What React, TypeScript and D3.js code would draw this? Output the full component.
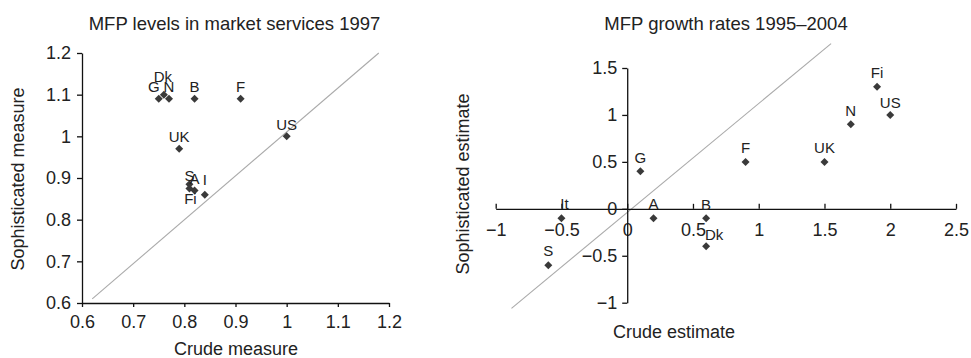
import React, { useRef, useEffect } from "react";
import * as d3 from "d3";

// Left panel: MFP levels in market services 1997
const levelCountries = ["G", "Dk", "N", "B", "F", "US", "UK", "S", "A", "I", "Fi"];
const levelCrude = [0.75, 0.76, 0.77, 0.82, 0.91, 1.0, 0.79, 0.81, 0.82, 0.84, 0.81];
const levelSoph = [1.09, 1.1, 1.09, 1.09, 1.09, 1.0, 0.97, 0.885, 0.87, 0.86, 0.875];
const levelTicks = [0.6, 0.7, 0.8, 0.9, 1, 1.1, 1.2];
const levelDiagonal: [number, number][] = [
  [0.62, 0.61],
  [1.18, 1.2],
];

// Right panel: MFP growth rates 1995-2004
const growthCountries = ["Fi", "US", "N", "UK", "F", "G", "It", "A", "B", "Dk", "S"];
const growthCrude = [1.9, 2.0, 1.7, 1.5, 0.9, 0.1, -0.5, 0.2, 0.6, 0.6, -0.6];
const growthSoph = [1.3, 1.0, 0.9, 0.5, 0.5, 0.4, -0.1, -0.1, -0.1, -0.4, -0.6];
const growthXTicks = [-1, -0.5, 0, 0.5, 1, 1.5, 2, 2.5];
const growthYTicks = [-1, -0.5, 0, 0.5, 1, 1.5];
const growthDiagonal: [number, number][] = [
  [-0.88, -1.06],
  [1.55, 1.76],
];

const FONT = "'Liberation Sans', Arial, sans-serif";
const fmt = (d: number) => String(+d.toFixed(2)).replace("-", "\u2212");

// label nudges (dx, dy) relative to marker
const levelLabelPos: Record<string, [number, number]> = {
  G: [-5, -12],
  Dk: [-1, -18],
  N: [0, -12],
  S: [0, -9],
  A: [0, -12],
  I: [0, -15],
  Fi: [1, 10],
};
const growthLabelPos: Record<string, [number, number]> = {
  Dk: [8, -12],
  It: [3, -14],
  B: [0, -13],
  US: [0, -12],
};

const diamond = "M0,-4L4,0L0,4L-4,0Z";

const App = () => {
  const svgRef = useRef<SVGSVGElement>(null);

  useEffect(() => {
    const svg = d3.select(svgRef.current);
    svg.selectAll("*").remove();

    const styleAxis = (g: any) => {
      g.select(".domain").attr("stroke", "#111").attr("stroke-width", 1.3);
      g.selectAll(".tick line").attr("stroke", "#111").attr("stroke-width", 1.3);
      g.selectAll(".tick text")
        .attr("fill", "#222")
        .attr("font-size", 18)
        .attr("font-family", FONT);
    };

    const text = (x: number, y: number, s: string, size = 18, rotate = false) => {
      const t = svg
        .append("text")
        .attr("text-anchor", "middle")
        .attr("dy", "0.35em")
        .attr("font-size", size)
        .attr("font-family", FONT)
        .attr("fill", "#222")
        .text(s);
      if (rotate) t.attr("transform", `translate(${x},${y}) rotate(-90)`);
      else t.attr("x", x).attr("y", y);
    };

    const line = d3.line<[number, number]>();

    // ---------- left panel ----------
    const xL = d3.scaleLinear().domain([0.6, 1.2]).range([82, 389]);
    const yL = d3.scaleLinear().domain([0.6, 1.2]).range([303, 53]);

    svg
      .append("path")
      .attr("d", line(levelDiagonal.map((d) => [xL(d[0]), yL(d[1])]) as any))
      .attr("stroke", "#aaa")
      .attr("stroke-width", 1.1)
      .attr("fill", "none");

    svg
      .append("g")
      .attr("transform", `translate(0,${yL(0.6)})`)
      .call(d3.axisBottom(xL).tickValues(levelTicks).tickFormat(fmt as any).tickSizeOuter(0).tickSizeInner(4).tickPadding(8))
      .call(styleAxis);

    svg
      .append("g")
      .attr("transform", `translate(${xL(0.6)},0)`)
      .call(d3.axisLeft(yL).tickValues(levelTicks).tickFormat(fmt as any).tickSizeOuter(0).tickSizeInner(5).tickPadding(6))
      .call(styleAxis);

    levelCountries.forEach((c, i) => {
      const px = xL(levelCrude[i]);
      const py = yL(levelSoph[i]);
      svg.append("path").attr("d", diamond).attr("transform", `translate(${px},${py})`).attr("fill", "#3a3a3a");
    });
    levelCountries.forEach((c, i) => {
      const [dx, dy] = levelLabelPos[c] || [0, -12];
      svg
        .append("text")
        .attr("x", xL(levelCrude[i]) + dx)
        .attr("y", yL(levelSoph[i]) + dy)
        .attr("dy", "0.35em")
        .attr("text-anchor", "middle")
        .attr("font-size", 15)
        .attr("font-family", FONT)
        .attr("fill", "#222")
        .text(c);
    });

    text(234.5, 24, "MFP levels in market services 1997", 18.5);
    text(236, 348.5, "Crude measure");
    text(18, 179, "Sophisticated measure", 18, true);

    // ---------- right panel ----------
    const xR = d3.scaleLinear().domain([-1, 2.5]).range([495.7, 956]);
    const yR = d3.scaleLinear().domain([-1, 1.5]).range([302.7, 68]);

    svg
      .append("path")
      .attr("d", line(growthDiagonal.map((d) => [xR(d[0]), yR(d[1])]) as any))
      .attr("stroke", "#aaa")
      .attr("stroke-width", 1.1)
      .attr("fill", "none");

    svg
      .append("g")
      .attr("transform", `translate(0,${yR(0)})`)
      .call(d3.axisBottom(xR).tickValues(growthXTicks).tickFormat(fmt as any).tickSizeOuter(0).tickSizeInner(-5).tickPadding(14))
      .call(styleAxis);

    svg
      .append("g")
      .attr("transform", `translate(${xR(0)},0)`)
      .call(d3.axisLeft(yR).tickValues(growthYTicks).tickFormat(fmt as any).tickSizeOuter(0).tickSizeInner(5).tickPadding(5))
      .call(styleAxis);

    growthCountries.forEach((c, i) => {
      const px = xR(growthCrude[i]);
      const py = yR(growthSoph[i]);
      svg.append("path").attr("d", diamond).attr("transform", `translate(${px},${py})`).attr("fill", "#3a3a3a");
    });
    growthCountries.forEach((c, i) => {
      const [dx, dy] = growthLabelPos[c] || [0, -14];
      svg
        .append("text")
        .attr("x", xR(growthCrude[i]) + dx)
        .attr("y", yR(growthSoph[i]) + dy)
        .attr("dy", "0.35em")
        .attr("text-anchor", "middle")
        .attr("font-size", 15)
        .attr("font-family", FONT)
        .attr("fill", "#222")
        .text(c);
    });

    text(726, 24, "MFP growth rates 1995\u20132004", 18.5);
    text(674, 332, "Crude estimate");
    text(463, 184, "Sophisticated estimate", 18, true);
  }, []);

  return (
    <svg
      ref={svgRef}
      width={971}
      height={358}
      style={{ position: "absolute", left: 0, top: 0, background: "#fff" }}
    />
  );
};

export default App;
